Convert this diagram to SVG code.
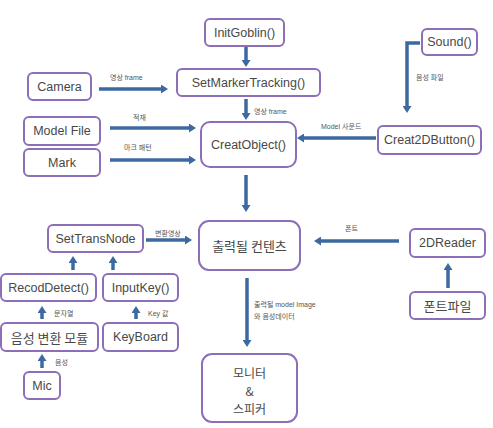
<svg xmlns="http://www.w3.org/2000/svg" width="493" height="428" viewBox="0 0 493 428">
<defs>
<style>
.box{fill:#fff;stroke:#8c6fb8;stroke-width:2}
.t{font-family:"Liberation Sans","Noto Sans CJK KR",sans-serif;font-size:12.5px;fill:#484848;text-anchor:middle;dominant-baseline:central}
.k{font-family:"Noto Sans CJK KR","Liberation Sans",sans-serif;font-size:13px;fill:#484848;text-anchor:middle;dominant-baseline:central}
.m{font-family:"Noto Sans CJK KR","Liberation Sans",sans-serif;font-size:12px;fill:#484848;text-anchor:middle}
.s{font-family:"Liberation Sans","Noto Sans CJK KR",sans-serif;font-size:7px;fill:#555}
.a{fill:none;stroke:#3c69a0;stroke-width:3.5;marker-end:url(#ah)}
</style>
<marker id="ah" viewBox="0 0 7 9" markerWidth="7" markerHeight="9" refX="1" refY="4.5" orient="auto" markerUnits="userSpaceOnUse">
<path d="M0,0 L7,4.5 L0,9 z" fill="#3c69a0"/>
</marker>
</defs>
<rect width="493" height="428" fill="#fff"/>

<g id="connectors">
<path class="a" d="M246,47 V61"/>
<path class="a" d="M246,99 V114"/>
<path class="a" d="M99,89 H162"/>
<path class="a" d="M110,128 H190"/>
<path class="a" d="M110,160 H190"/>
<path class="a" d="M420,43 H407 V107" style="stroke-linejoin:miter"/>
<path class="a" d="M376,138 H303"/>
<path class="a" d="M246,175 V206"/>
<path class="a" d="M146,240 H186"/>
<path class="a" d="M73,270 V262"/>
<path class="a" d="M113,270 V262"/>
<path class="a" d="M42,319 V312"/>
<path class="a" d="M136,319 V312"/>
<path class="a" d="M42,368 V360"/>
<path class="a" d="M399,241 H320"/>
<path class="a" d="M448,288 V269"/>
<path class="a" d="M247,278 V341"/>
<text class="s" x="110" y="80">영상 frame</text>
<text class="s" x="254" y="114">영상 frame</text>
<text class="s" x="133" y="120">적재</text>
<text class="s" x="124" y="150">마크 패턴</text>
<text class="s" x="416" y="80">음성 파일</text>
<text class="s" x="321" y="129">Model 사운드</text>
<text class="s" x="155" y="236">변환영상</text>
<text class="s" x="345" y="231">폰트</text>
<text class="s" x="254" y="307">출력될 model Image</text>
<text class="s" x="254" y="319">와 음성데이터</text>
<text class="s" x="54" y="316">문자열</text>
<text class="s" x="148" y="316">Key 값</text>
<text class="s" x="55" y="365">음성</text>
</g>

<g id="InitGoblin"><rect class="box" x="205" y="19" width="79" height="27" rx="5"/><text class="t" x="244.5" y="32.5">InitGoblin()</text></g>
<g id="SetMarkerTracking"><rect class="box" x="177" y="69" width="143" height="27" rx="5"/><text class="t" x="248.5" y="82.5">SetMarkerTracking()</text></g>
<g id="Camera"><rect class="box" x="28" y="73" width="63" height="27" rx="5"/><text class="t" x="59.5" y="86.5">Camera</text></g>
<g id="ModelFile"><rect class="box" x="24" y="117" width="76" height="28" rx="5"/><text class="t" x="62" y="131">Model File</text></g>
<g id="Mark"><rect class="box" x="24" y="149" width="76" height="27" rx="5"/><text class="t" x="62" y="162.5">Mark</text></g>
<g id="CreatObject"><rect class="box" x="201" y="122" width="95" height="45" rx="9"/><text class="t" x="248.5" y="144.5">CreatObject()</text></g>
<g id="Sound"><rect class="box" x="422" y="29" width="55" height="26" rx="5"/><text class="t" x="449.5" y="42">Sound()</text></g>
<g id="Creat2DButton"><rect class="box" x="378" y="126" width="103" height="28" rx="5"/><text class="t" x="429.5" y="140">Creat2DButton()</text></g>
<g id="SetTransNode"><rect class="box" x="48" y="225" width="95" height="27" rx="5"/><text class="t" x="95.5" y="238.5">SetTransNode</text></g>
<g id="RecodDetect"><rect class="box" x="1" y="274" width="95" height="27" rx="5"/><text class="t" x="48.5" y="287.5">RecodDetect()</text></g>
<g id="InputKey"><rect class="box" x="103" y="274" width="75" height="27" rx="5"/><text class="t" x="140.5" y="287.5">InputKey()</text></g>
<g id="VoiceModule"><rect class="box" x="1" y="323" width="97" height="28" rx="5"/><text class="k" x="49.5" y="337">음성 변환 모듈</text></g>
<g id="KeyBoard"><rect class="box" x="103" y="323" width="75" height="28" rx="5"/><text class="t" x="140.5" y="337">KeyBoard</text></g>
<g id="Mic"><rect class="box" x="24" y="372" width="36" height="27" rx="5"/><text class="t" x="42" y="385.5">Mic</text></g>
<g id="OutputContents"><rect class="box" x="199" y="221" width="101" height="49" rx="10"/><text class="k" x="249.5" y="245.5">출력될 컨텐츠</text></g>
<g id="2DReader"><rect class="box" x="410" y="229" width="75" height="28" rx="5"/><text class="t" x="447.5" y="243">2DReader</text></g>
<g id="FontFile"><rect class="box" x="410" y="292" width="75" height="27" rx="5"/><text class="k" x="447.5" y="305.5">폰트파일</text></g>
<g id="MonitorSpeaker"><rect class="box" x="202" y="354" width="95" height="68" rx="10"/><text class="m" x="249.5" y="378">모니터</text><text class="m" x="249.5" y="396">&amp;</text><text class="m" x="249.5" y="414">스피커</text></g>
</svg>
